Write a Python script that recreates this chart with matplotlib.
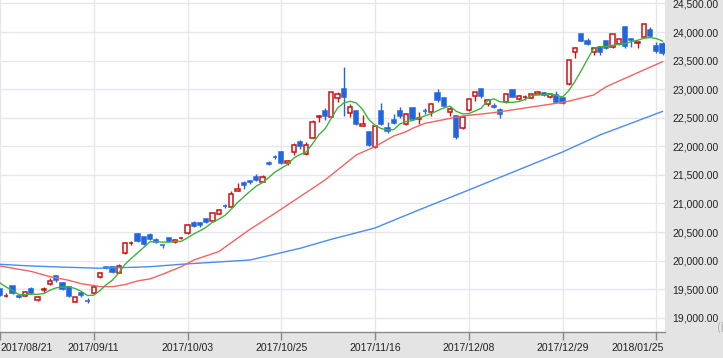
import matplotlib
matplotlib.use("Agg")
import matplotlib.pyplot as plt
from matplotlib.patches import Rectangle
import numpy as np

# ---------------- data (Nikkei-style daily candles) ----------------
dates = ["2017/08/21","2017/08/22","2017/08/23","2017/08/24","2017/08/25","2017/08/28","2017/08/29","2017/08/30","2017/08/31",
         "2017/09/01","2017/09/04","2017/09/05","2017/09/06","2017/09/07","2017/09/08","2017/09/11","2017/09/12","2017/09/13",
         "2017/09/14","2017/09/15","2017/09/19","2017/09/20","2017/09/21","2017/09/22","2017/09/25","2017/09/26","2017/09/27",
         "2017/09/28","2017/09/29","2017/10/02","2017/10/03","2017/10/04","2017/10/05","2017/10/06","2017/10/10","2017/10/11",
         "2017/10/12","2017/10/13","2017/10/16","2017/10/17","2017/10/18","2017/10/19","2017/10/20","2017/10/23","2017/10/24",
         "2017/10/25","2017/10/26","2017/10/27","2017/10/30","2017/10/31","2017/11/01","2017/11/02","2017/11/06","2017/11/07",
         "2017/11/08","2017/11/09","2017/11/10","2017/11/13","2017/11/14","2017/11/15","2017/11/16","2017/11/17","2017/11/20",
         "2017/11/21","2017/11/22","2017/11/24","2017/11/27","2017/11/28","2017/11/29","2017/11/30","2017/12/01","2017/12/04",
         "2017/12/05","2017/12/06","2017/12/07","2017/12/08","2017/12/11","2017/12/12","2017/12/13","2017/12/14","2017/12/15",
         "2017/12/18","2017/12/19","2017/12/20","2017/12/21","2017/12/22","2017/12/25","2017/12/26","2017/12/27","2017/12/28",
         "2017/12/29","2018/01/04","2018/01/05","2018/01/09","2018/01/10","2018/01/11","2018/01/12","2018/01/15","2018/01/16",
         "2018/01/17","2018/01/18","2018/01/19","2018/01/22","2018/01/23","2018/01/24","2018/01/25","2018/01/26"]

opens = [19495,19375,19555,19372,19386,19508,19310,19490,19584,19724,19613,19543,19281,19440,19300,19440,19718,19880,
         19882,19790,20127,20300,20465,20413,20453,20360,20275,20395,20319,20390,20477,20663,20663,20733,20687,20815,
         20960,20943,21212,21363,21390,21468,21381,21710,21820,21900,21705,21906,22069,21860,22139,22507,22618,22518,
         22851,23003,22577,22618,22355,22244,21993,22618,22314,22460,22618,22384,22676,22480,22625,22606,22927,22851,
         22606,22536,22314,22635,22886,22997,22746,22710,22635,22769,22985,22828,22860,22851,22915,22927,22857,22898,
         22851,23090,23644,23965,23848,23656,23743,23842,23732,23784,24082,23870,23812,23918,24035,23755,23784]
highs = [19500,19435,19560,19390,19465,19530,19380,19533,19700,19735,19620,19550,19365,19467,19350,19565,19800,19890,
         19900,19935,20320,20340,20480,20420,20475,20395,20280,20400,20370,20420,20640,20690,20680,20745,20835,20895,
         20990,21217,21363,21398,21410,21515,21492,21740,21850,21920,21760,22050,22110,22070,22460,22550,22665,22950,
         22944,23387,22735,22630,22548,22256,22370,22763,22430,22560,22680,22590,22690,22594,22664,22763,23003,22870,
         22693,22540,22530,22840,22950,23003,22828,22752,22676,22925,22995,22900,22890,22915,22960,22956,22920,22968,
         22868,23510,23743,23970,23890,23732,23755,23850,23970,23880,24084,23890,23825,24145,24082,23830,23830]
lows = [19375,19365,19420,19340,19380,19415,19285,19440,19570,19625,19480,19365,19270,19370,19250,19435,19700,19860,
        19790,19775,20110,20275,20320,20270,20360,20305,20225,20330,20310,20380,20460,20583,20594,20665,20680,20810,
        20920,20930,21210,21247,21340,21398,21375,21680,21770,21690,21680,21848,21950,21848,22139,22430,22460,22510,
        22780,22536,22518,22370,22350,22011,21975,22372,22226,22390,22490,22372,22460,22384,22560,22530,22780,22700,
        22536,22128,22300,22623,22798,22850,22705,22664,22490,22760,22860,22815,22810,22840,22910,22880,22850,22752,
        22740,23070,23540,23840,23772,23598,23598,23700,23725,23770,23714,23745,23714,23910,23918,23627,23598]
closes = [19390,19384,19435,19354,19452,19440,19362,19506,19646,19662,19508,19385,19358,19396,19290,19546,19788,19866,
          19807,19905,20300,20313,20345,20296,20385,20318,20268,20340,20360,20400,20623,20605,20623,20675,20827,20885,
          20950,21159,21253,21323,21375,21410,21457,21697,21805,21707,21745,22015,22011,22020,22419,22536,22530,22944,
          22915,22868,22682,22384,22390,22023,22361,22390,22268,22416,22530,22559,22472,22489,22612,22734,22810,22711,
          22647,22157,22518,22822,22944,22886,22810,22695,22559,22909,22868,22886,22868,22909,22956,22898,22915,22781,
          22763,23510,23714,23848,23790,23714,23656,23714,23965,23872,23755,23860,23819,24140,23936,23673,23638]
prior_closes = [19753, 19729, 19703, 19470]   # four sessions before 2017/08/21 (for the 5-day average)

# 25-day and 75-day moving averages (day index, value)
ma25_day = [0, 5, 8, 11, 13, 16, 18, 20, 22, 24, 26, 29, 31, 35, 40, 44, 48, 52, 57, 60, 63, 65, 66, 68, 74, 79, 84, 89, 91, 95, 97, 100, 103, 106]
ma25_val = [19905, 19810, 19718, 19655, 19595, 19545, 19543, 19580, 19643, 19680, 19760, 19893, 20010, 20156, 20547, 20827,
            21118, 21410, 21848, 21994, 22180, 22256, 22314, 22402, 22530, 22588, 22670, 22752, 22790, 22898, 23043, 23189,
            23335, 23480]
ma75_day = [0, 5, 11, 16, 22, 24, 29, 40, 48, 53, 60, 67, 75, 90, 96, 106]
ma75_val = [19935, 19905, 19882, 19866, 19885, 19893, 19935, 20010, 20214, 20372, 20570, 20885, 21235, 21900, 22198, 22610]

tick_labels = ["2017/08/21", "2017/09/11", "2017/10/03", "2017/10/25", "2017/11/16", "2017/12/08", "2017/12/29", "2018/01/25"]
y_ticks = [19000, 19500, 20000, 20500, 21000, 21500, 22000, 22500, 23000, 23500, 24000, 24500]

# ---------------- style ----------------
UP = "#cc1111"
DOWN = "#2266dd"
MA5C = "#3cb43c"
MA25C = "#f06464"
MA75C = "#4a8cf0"
GRID = "#e6e6ee"
PANEL = "#e4e4e4"
FONT = "Liberation Sans"

W, H = 723, 358
fig = plt.figure(figsize=(W / 100, H / 100), dpi=100, facecolor=PANEL)
ax = fig.add_axes([0, 26 / H, 665 / W, 332 / H])
ax.set_facecolor("white")

n = len(dates)
idx = np.arange(n)
ax.set_xlim(0, 106.4)
ax.set_ylim(18750, 24560)

# grid
for v in y_ticks:
    ax.axhline(v, color=GRID, lw=1.0, zorder=0)
tick_idx = [dates.index(t) for t in tick_labels]
for t in tick_idx:
    ax.axvline(t, color=GRID, lw=1.0, zorder=0)

# candles
bw = 0.66
for i in range(n):
    o, h, l, c = opens[i], highs[i], lows[i], closes[i]
    up = c >= o
    col = UP if up else DOWN
    ax.vlines(i, l, h, color=col, lw=1.0, zorder=2)
    lo, hi = min(o, c), max(o, c)
    ax.add_patch(Rectangle((i - bw / 2, lo), bw, max(hi - lo, 1.0),
                           facecolor="white" if up else DOWN, edgecolor=col, lw=1.1, zorder=3))

# moving averages
allc = np.array(prior_closes + closes, dtype=float)
ma5 = np.convolve(allc, np.ones(5) / 5, mode="valid")
ax.plot(ma75_day, ma75_val, color=MA75C, lw=1.0, zorder=4)
ax.plot(ma25_day, ma25_val, color=MA25C, lw=1.0, zorder=4)
ax.plot(idx, ma5, color=MA5C, lw=1.0, zorder=5)

# axes / ticks
for s in ["top", "left", "right"]:
    ax.spines[s].set_visible(False)
ax.spines["bottom"].set_color("#8a8a8a")
ax.spines["bottom"].set_linewidth(1.0)

ax.set_yticks(y_ticks)
ax.set_yticklabels([f"{v:,.2f}" for v in y_ticks])
ax.tick_params(axis="y", left=False, right=False, labelleft=False, labelright=True, pad=2,
               labelsize=7.5, labelcolor="#222222")
for lab in ax.get_yticklabels():
    lab.set_fontfamily(FONT)

ax.set_xticks(tick_idx)
ax.set_xticklabels([])
ax.tick_params(axis="x", direction="out", length=6, width=1.0, color="#8a8a8a")
for k, (t, lab) in enumerate(zip(tick_idx, tick_labels)):
    if k == 0:
        ha, dx = "left", 0
    elif k == len(tick_labels) - 1:
        ha, dx = "right", 8
    else:
        ha, dx = "center", 0
    ax.annotate(lab, xy=(t, 0), xycoords=("data", "axes fraction"), xytext=(dx, -16),
                textcoords="offset pixels", ha=ha, va="center", fontsize=7.5,
                family=FONT, color="#222222", annotation_clip=False)

fig.text(717 / W, 1 - 328 / H, "(円)", fontsize=8, color="#aaaaaa", ha="left", va="center",
         family=["Noto Sans CJK JP", "DejaVu Sans"])

fig.savefig("out.png", dpi=100, facecolor=PANEL)
